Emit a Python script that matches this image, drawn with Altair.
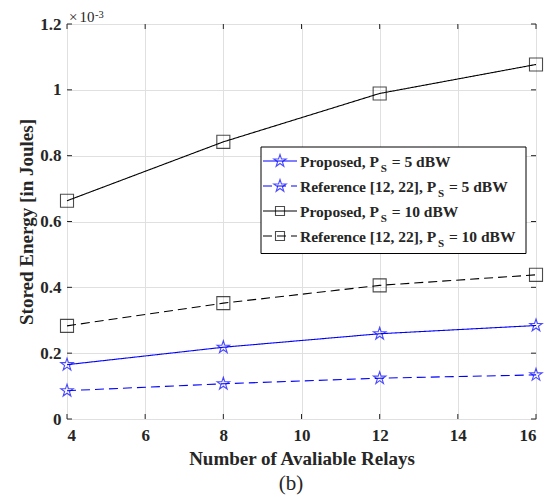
import altair as alt
import pandas as pd

# ---- data (values in units of 1e-3 J) ----
relays = [4, 8, 12, 16]
prop5 = [0.165, 0.218, 0.259, 0.284]
ref5 = [0.086, 0.107, 0.124, 0.134]
prop10 = [0.663, 0.842, 0.989, 1.077]
ref10 = [0.283, 0.352, 0.406, 0.438]
series_names = ["Proposed 5", "Reference 5", "Proposed 10", "Reference 10"]
x_ticks = [4, 6, 8, 10, 12, 14, 16]
y_ticks = [0, 0.2, 0.4, 0.6, 0.8, 1.0, 1.2]

rows = []
for name, vals in zip(series_names, [prop5, ref5, prop10, ref10]):
    for r, v in zip(relays, vals):
        rows.append({"x": r, "y": v, "s": name})
df = pd.DataFrame(rows)

W, H = 469, 395
FONT = "Liberation Serif"
TXT = "#262626"
BLUE = "#0000ff"
STAR = ("M0,-1L0.2245,-0.309L0.951,-0.309L0.363,0.118L0.588,0.809L0,0.382"
        "L-0.588,0.809L-0.363,0.118L-0.951,-0.309L-0.2245,-0.309Z")
colors = [BLUE, BLUE, "#000000", "#000000"]
dashes = [[1, 0], [9, 5], [1, 0], [9, 5]]
shapes = [STAR, STAR, "square", "square"]
sizes = [170, 170, 81, 81]

xs = alt.Scale(domain=[4, 16], nice=False, zero=False)
ys = alt.Scale(domain=[0, 1.2], nice=False)

X = alt.X("x:Q", scale=xs, title="Number of Avaliable Relays",
          axis=alt.Axis(values=x_ticks, tickSize=0, domain=False, grid=True,
                        gridColor="#e0e0e0", labelFont=FONT, labelFontSize=17,
                        labelFontWeight="bold", labelColor=TXT, labelPadding=8,
                        titleFont=FONT, titleFontSize=19, titleFontWeight="bold",
                        titleColor=TXT, titlePadding=6))
Y = alt.Y("y:Q", scale=ys, title="Stored Energy [in Joules]",
          axis=alt.Axis(values=y_ticks, tickSize=0, domain=False, grid=True,
                        gridColor="#e0e0e0", labelFont=FONT, labelFontSize=17,
                        labelFontWeight="bold", labelColor=TXT, labelPadding=6,
                        labelExpr="format(datum.value, '~g')",
                        titleFont=FONT, titleFontSize=19, titleFontWeight="bold",
                        titleColor=TXT, titlePadding=3))

base = alt.Chart(df)
lines = base.mark_line(strokeWidth=1.1).encode(
    x=X, y=Y,
    color=alt.Color("s:N", scale=alt.Scale(domain=series_names, range=colors), legend=None),
    strokeDash=alt.StrokeDash("s:N", scale=alt.Scale(domain=series_names, range=dashes), legend=None),
    detail="s:N",
)
points = base.mark_point(filled=False, strokeWidth=1.1).encode(
    x="x:Q", y="y:Q",
    color=alt.Color("s:N", scale=alt.Scale(domain=series_names, range=colors), legend=None),
    shape=alt.Shape("s:N", scale=alt.Scale(domain=series_names, range=shapes), legend=None),
    size=alt.Size("s:N", scale=alt.Scale(domain=series_names, range=sizes), legend=None),
)

# inward ticks on all four sides
xt = alt.Chart(pd.DataFrame({"x": x_ticks}))
yt = alt.Chart(pd.DataFrame({"y": y_ticks}))
tick_layers = [
    xt.mark_rule(color=TXT).encode(x="x:Q", y=alt.value(H), y2=alt.value(H - 5)),
    xt.mark_rule(color=TXT).encode(x="x:Q", y=alt.value(0), y2=alt.value(5)),
    yt.mark_rule(color=TXT).encode(y="y:Q", x=alt.value(0), x2=alt.value(5)),
    yt.mark_rule(color=TXT).encode(y="y:Q", x=alt.value(W), x2=alt.value(W - 5)),
]

one = alt.Data(values=[{"a": 0}])


def text_layer(txt, x, y, size, weight="bold", align="left"):
    return alt.Chart(one).mark_text(
        text=txt, font=FONT, fontSize=size, fontWeight=weight, color=TXT,
        align=align, baseline="alphabetic"
    ).encode(x=alt.value(x), y=alt.value(y))


# exponent label
extra = [
    text_layer("\u00d7", 2, -2, 15, weight="normal"),
    text_layer("10", 12.5, -2, 15, weight="normal"),
    text_layer("-3", 28, -6.5, 10.5, weight="normal"),
    text_layer("(b)", 224, H + 71, 21, weight="normal", align="center"),
]

# manual legend
legend_layers = [
    alt.Chart(one).mark_rect(fill="white", stroke="#000000", strokeWidth=1).encode(
        x=alt.value(194), x2=alt.value(459), y=alt.value(123), y2=alt.value(229.5))
]
leg_labels = [
    ("Proposed, P", "= 5 dBW", 79.2),
    ("Reference [12, 22], P", "= 5 dBW", 136.4),
    ("Proposed, P", "= 10 dBW", 79.2),
    ("Reference [12, 22], P", "= 10 dBW", 136.4),
]
for i, (pre, post, wpre) in enumerate(leg_labels):
    bl = 142.5 + i * 25
    yc = bl - 5.5
    legend_layers.append(
        alt.Chart(one).mark_rule(color=colors[i], strokeWidth=1.1, strokeDash=dashes[i]).encode(
            x=alt.value(196), x2=alt.value(230), y=alt.value(yc)))
    legend_layers.append(
        alt.Chart(one).mark_point(shape=shapes[i], size=sizes[i], filled=False,
                                  color=colors[i], strokeWidth=1.1).encode(
            x=alt.value(213), y=alt.value(yc)))
    tx = 233
    legend_layers.append(text_layer(pre, tx, bl, 15.5))
    legend_layers.append(text_layer("S", tx + wpre + 1.5, bl + 5, 11))
    legend_layers.append(text_layer(post, tx + wpre + 12.5, bl, 15.5))

chart = alt.layer(lines, points, *tick_layers, *extra, *legend_layers).properties(
    width=W, height=H,
    autosize=alt.AutoSizeParams(type="none"),
    padding={"left": 59, "top": 16, "right": 10, "bottom": 80},
).configure_view(stroke=TXT, strokeWidth=1).configure(background="white")

chart.save("out.html", embed_options={"renderer": "svg", "actions": False})
